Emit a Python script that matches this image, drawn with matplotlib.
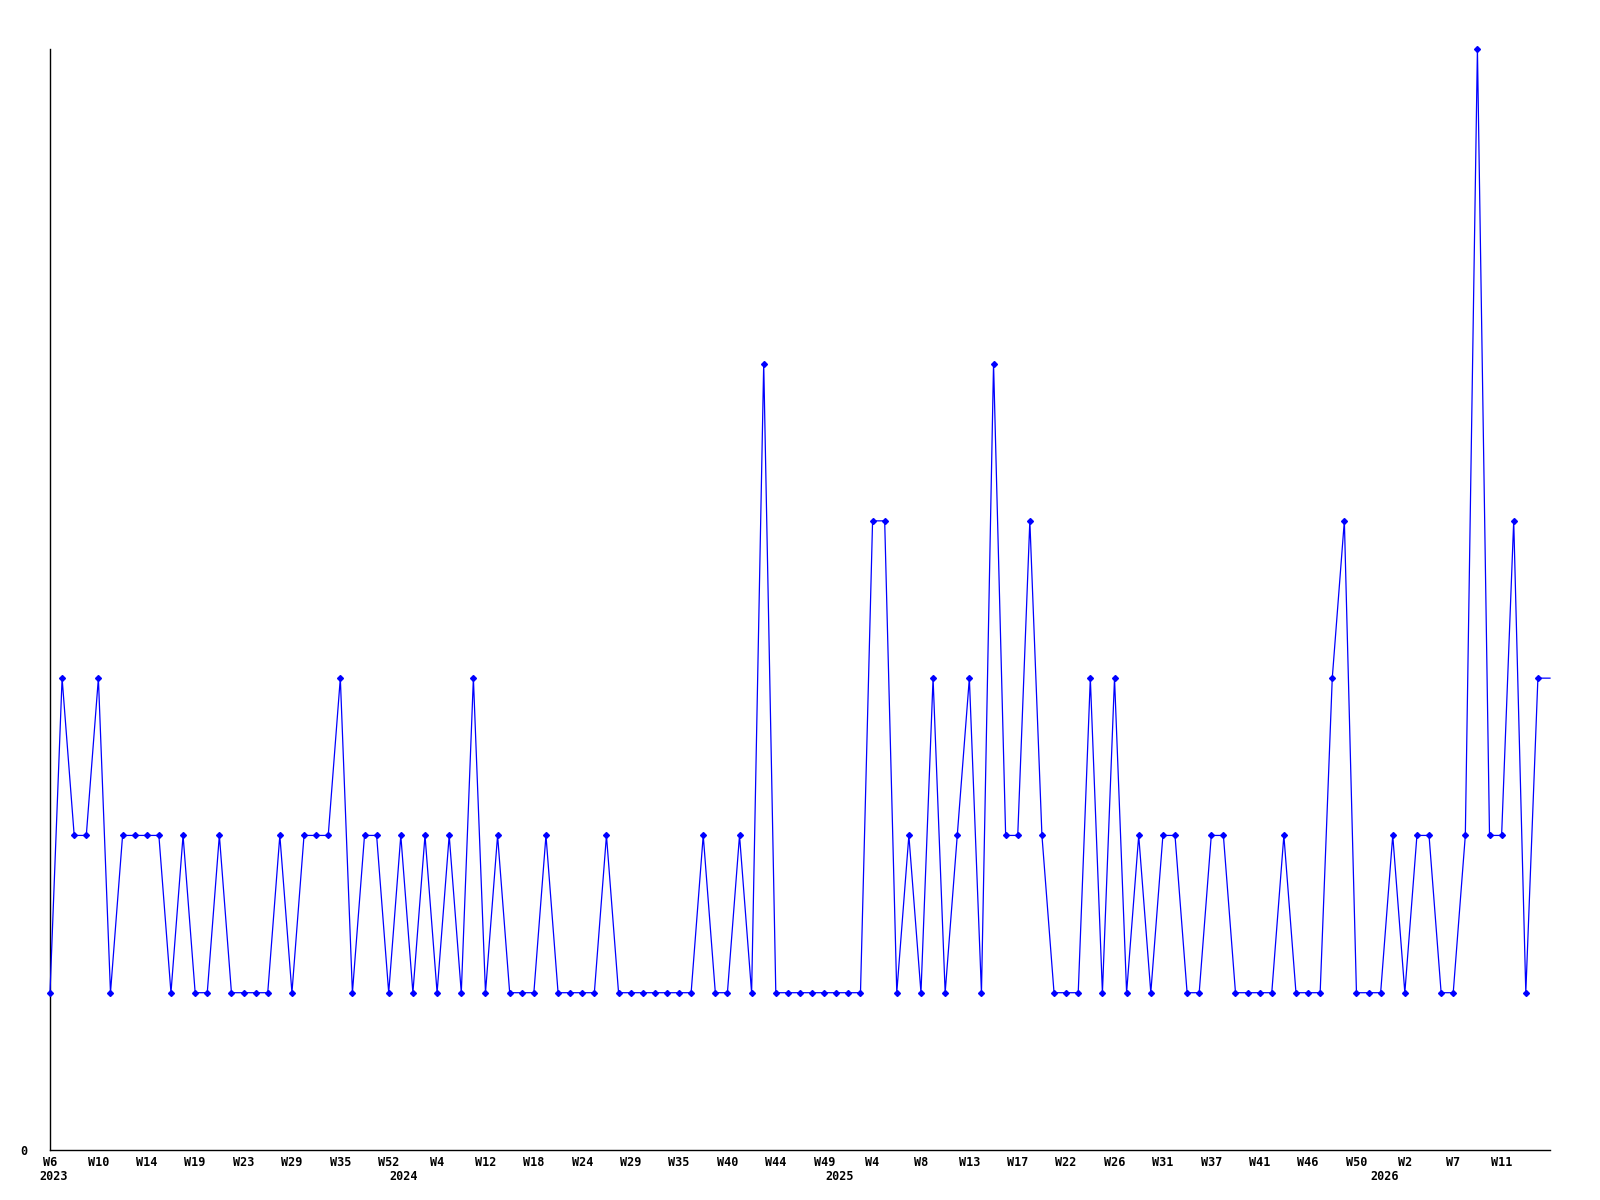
import matplotlib
matplotlib.use("Agg")
import matplotlib.pyplot as plt
import matplotlib.transforms as mtransforms

# weekly counts, one point per week shown
counts = [1, 3, 2, 2, 3, 1, 2, 2, 2, 2,
          1, 2, 1, 1, 2, 1, 1, 1, 1, 2,
          1, 2, 2, 2, 3, 1, 2, 2, 1, 2,
          1, 2, 1, 2, 1, 3, 1, 2, 1, 1,
          1, 2, 1, 1, 1, 1, 2, 1, 1, 1,
          1, 1, 1, 1, 2, 1, 1, 2, 1, 5,
          1, 1, 1, 1, 1, 1, 1, 1, 4, 4,
          1, 2, 1, 3, 1, 2, 3, 1, 5, 2,
          2, 4, 2, 1, 1, 1, 3, 1, 3, 1,
          2, 1, 2, 2, 1, 1, 2, 2, 1, 1,
          1, 1, 2, 1, 1, 1, 3, 4, 1, 1,
          1, 2, 1, 2, 2, 1, 1, 2, 7, 2,
          2, 4, 1, 3, 3]

week_labels = ["W6", "W10", "W14", "W19", "W23", "W29", "W35", "W52",
               "W4", "W12", "W18", "W24", "W29", "W35", "W40", "W44",
               "W49", "W4", "W8", "W13", "W17", "W22", "W26", "W31",
               "W37", "W41", "W46", "W50", "W2", "W7", "W11"]
year_labels = ["2023", "2024", "2025", "2026"]
year_pos = [0.3, 29.2, 65.3, 110.3]

font = dict(family="DejaVu Sans Mono", weight="bold", size=8.5)
blue = "#0000ff"

fig = plt.figure(figsize=(16, 12), dpi=100)
ax = fig.add_axes([50/1600, 1 - 1150/1200, 1500/1600, 1101/1200])

x = list(range(len(counts)))
ax.plot(x, counts, color=blue, lw=0.9, marker="D", ms=3,
        markevery=list(range(len(counts) - 1)), clip_on=False, zorder=3)

ax.set_xlim(0, len(counts) - 1)
ax.set_ylim(0, 7)

ax.spines['right'].set_visible(False)
ax.spines['top'].set_visible(False)
ax.spines['left'].set_linewidth(1)
ax.spines['bottom'].set_linewidth(1)

ax.set_yticks([0])
ax.set_yticklabels(["0"], fontdict=font)
ax.tick_params(axis='y', length=0, pad=16)

ax.set_xticks(range(0, 4 * len(week_labels), 4))
ax.set_xticklabels(week_labels, fontdict=font)
ax.tick_params(axis='x', length=0, pad=4)

trans = mtransforms.blended_transform_factory(ax.transData, fig.transFigure)
for pos, yr in zip(year_pos, year_labels):
    ax.text(pos, 1 - 1177/1200, yr, transform=trans, ha="center", va="center",
            fontdict=font)

fig.savefig("out.png", dpi=100)
